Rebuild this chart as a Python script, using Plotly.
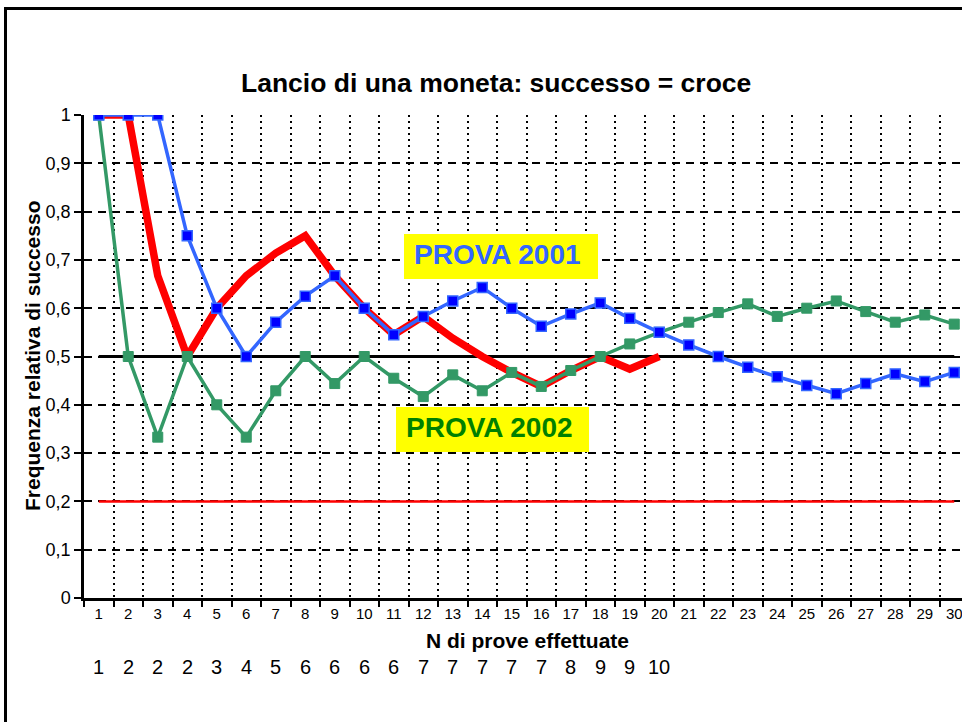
import plotly.graph_objects as go

# ---------------- data ----------------
trials = [str(i) for i in range(1, 31)]

prova_2001 = [1.0, 1.0, 1.0, 0.75, 0.6, 0.5, 0.571, 0.625, 0.667, 0.6,
              0.545, 0.583, 0.615, 0.643, 0.6, 0.5625, 0.588, 0.611, 0.579, 0.55,
              0.524, 0.5, 0.478, 0.458, 0.44, 0.423, 0.444, 0.464, 0.448, 0.467]

prova_2002 = [1.0, 0.5, 0.333, 0.5, 0.4, 0.333, 0.429, 0.5, 0.444, 0.5,
              0.455, 0.417, 0.462, 0.429, 0.467, 0.438, 0.471, 0.5, 0.526, 0.55,
              0.571, 0.591, 0.609, 0.583, 0.6, 0.615, 0.593, 0.571, 0.586, 0.567]

prova_2003 = [1.0, 1.0, 0.667, 0.5, 0.6, 0.667, 0.714, 0.75, 0.667, 0.6,
              0.545, 0.583, 0.538, 0.5, 0.467, 0.438, 0.471, 0.5, 0.474, 0.5]

successi_2003 = [1, 2, 2, 2, 3, 4, 5, 6, 6, 6, 6, 7, 7, 7, 7, 7, 8, 9, 9, 10]

probabilita_teorica = 0.5
soglia = 0.2

y_ticks = [0, 0.1, 0.2, 0.3, 0.4, 0.5, 0.6, 0.7, 0.8, 0.9, 1.0]
y_tick_labels = ["0", "0,1", "0,2", "0,3", "0,4", "0,5", "0,6", "0,7", "0,8", "0,9", "1"]

title_text = "Lancio di una moneta: successo = croce"
x_title = "N di prove effettuate"
y_title = "Frequenza relativa di successo"

# ---------------- layout helpers ----------------
W, H = 962, 722
ML, MR, MT, MB = 84, 0, 115, 124
PW = W - ML - MR
PH = H - MT - MB
CAT_W = 29.5
FONT = "Liberation Sans, Arial, sans-serif"


def px_x(p):
    """screen pixel x -> paper x"""
    return (p - ML) / PW


def px_y(p):
    """screen pixel y -> paper y"""
    return (H - MB - p) / PH


fig = go.Figure()

# reference lines
fig.add_trace(go.Scatter(x=trials, y=[soglia] * len(trials), mode="lines",
                         line=dict(color="#FF0000", width=2.5), hoverinfo="skip"))
fig.add_trace(go.Scatter(x=trials, y=[probabilita_teorica] * len(trials), mode="lines",
                         line=dict(color="#000000", width=3), hoverinfo="skip"))

# series
fig.add_trace(go.Scatter(x=trials[:len(prova_2003)], y=prova_2003, mode="lines",
                         line=dict(color="#FF0000", width=7.5)))
fig.add_trace(go.Scatter(x=trials, y=prova_2002, mode="lines+markers",
                         line=dict(color="#339966", width=3.5),
                         marker=dict(symbol="square", size=10, color="#339966",
                                     line=dict(color="#339966", width=1))))
fig.add_trace(go.Scatter(x=trials, y=prova_2001, mode="lines+markers",
                         line=dict(color="#3366FF", width=3.5),
                         marker=dict(symbol="square", size=10, color="#0000FF",
                                     line=dict(color="#3366FF", width=1.5))))

shapes = [
    # outer frame
    dict(type="rect", xref="paper", yref="paper",
         x0=px_x(5.5), x1=1.2, y0=-0.5, y1=px_y(8.5),
         line=dict(color="black", width=3), layer="below"),
    # yellow label boxes
    dict(type="rect", xref="paper", yref="paper",
         x0=px_x(404), x1=px_x(598), y0=px_y(279), y1=px_y(234),
         fillcolor="#FFFF00", line=dict(width=0), layer="above"),
    dict(type="rect", xref="paper", yref="paper",
         x0=px_x(396), x1=px_x(589), y0=px_y(452), y1=px_y(407),
         fillcolor="#FFFF00", line=dict(width=0), layer="above"),
]

annotations = [
    dict(text=title_text, xref="paper", yref="paper", x=px_x(495.5), y=px_y(83),
         xanchor="center", yanchor="middle", showarrow=False,
         font=dict(family=FONT, size=26.5, color="black", weight="bold")),
    dict(text=y_title, xref="paper", yref="paper", x=px_x(32), y=px_y(356),
         xanchor="center", yanchor="middle", showarrow=False, textangle=-90,
         font=dict(family=FONT, size=21, color="black", weight="bold")),
    dict(text=x_title, xref="paper", yref="paper", x=px_x(527), y=px_y(640),
         xanchor="center", yanchor="middle", showarrow=False,
         font=dict(family=FONT, size=21, color="black", weight="bold")),
    dict(text="PROVA 2001", xref="paper", yref="paper", x=px_x(497), y=px_y(254),
         xanchor="center", yanchor="middle", showarrow=False,
         font=dict(family=FONT, size=28, color="#3366FF", weight="bold")),
    dict(text="PROVA 2002", xref="paper", yref="paper", x=px_x(489), y=px_y(427),
         xanchor="center", yanchor="middle", showarrow=False,
         font=dict(family=FONT, size=28, color="#008000", weight="bold")),
]

for i, n in enumerate(successi_2003):
    annotations.append(dict(text=str(n), xref="x", yref="paper", x=i,
                            y=px_y(667), xanchor="center", yanchor="middle",
                            showarrow=False,
                            font=dict(family=FONT, size=20, color="black")))

fig.update_layout(
    width=W, height=H,
    margin=dict(l=ML, r=MR, t=MT, b=MB, pad=0),
    paper_bgcolor="white", plot_bgcolor="white",
    showlegend=False,
    shapes=shapes,
    annotations=annotations,
    xaxis=dict(
        type="category", categoryorder="array", categoryarray=trials,
        range=[-0.5, -0.5 + PW / CAT_W],
        tickson="boundaries",
        showgrid=True, gridcolor="black", gridwidth=2, griddash="2px,4px",
        showline=True, linecolor="black", linewidth=2.5,
        ticks="outside", ticklen=6, tickwidth=2, tickcolor="black",
        tickfont=dict(family=FONT, size=15, color="black"),
        zeroline=False, fixedrange=True,
    ),
    yaxis=dict(
        range=[0, 1],
        tickvals=y_ticks, ticktext=y_tick_labels,
        showgrid=True, gridcolor="black", gridwidth=2, griddash="8px,6px",
        showline=True, linecolor="black", linewidth=2.5,
        ticks="outside", ticklen=7, tickwidth=2, tickcolor="black",
        tickfont=dict(family=FONT, size=18, color="black"),
        zeroline=False, fixedrange=True,
    ),
)

fig.write_html(
    "out.html",
    config={"displayModeBar": False},
    post_script="document.body.style.margin='0';document.body.style.overflow='hidden';",
)
